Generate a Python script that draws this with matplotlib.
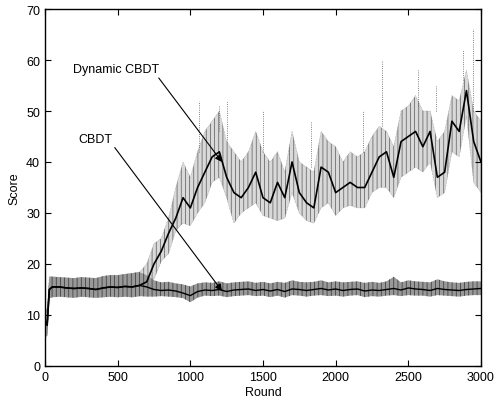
import numpy as np
import matplotlib
matplotlib.use("Agg")
import matplotlib.pyplot as plt

plt.rcParams["font.family"] = ["Liberation Sans", "DejaVu Sans"]
plt.rcParams["hatch.linewidth"] = 0.5

# -----------------------------
# DATA (50-round bins)
# -----------------------------
rounds = np.concatenate([[0, 15, 30], np.arange(50, 3001, 50)])

cbdt_core = [9, 8, 15,
             15.5, 15.5, 15.3, 15.2, 15.3, 15.2, 15.0, 15.3, 15.5, 15.4,
             15.6, 15.5, 15.8, 15.5, 15.0, 14.8, 14.9, 14.7, 14.3, 13.8,
             14.6, 14.9, 14.8, 15.0, 14.6, 14.9, 15.0, 15.1, 14.8, 15.0,
             14.7, 15.0, 14.6, 15.1, 15.0, 14.8, 15.0, 15.2, 14.9, 15.1,
             14.8, 15.0, 15.1, 14.7, 14.9, 14.8, 15.0, 15.2, 14.9, 15.3,
             15.1, 15.0, 14.8, 15.2, 15.0, 14.9, 14.8, 15.0, 15.1, 15.2]
cbdt_lo = [5.5, 6, 13.3,
           13.5, 13.6, 13.5, 13.4, 13.6, 13.5, 13.4, 13.5, 13.6, 13.5,
           13.6, 13.5, 13.7, 13.6, 13.6, 13.7, 13.6, 13.5, 13.3, 12.5,
           13.4, 13.8, 13.7, 13.8, 13.5, 13.7, 13.8, 13.9, 13.7, 13.8,
           13.5, 13.8, 13.4, 13.9, 13.8, 13.6, 13.8, 13.9, 13.7, 13.8,
           13.6, 13.8, 13.9, 13.5, 13.7, 13.6, 13.8, 13.9, 13.7, 13.9,
           13.8, 13.8, 13.6, 13.9, 13.8, 13.7, 13.6, 13.8, 13.9, 13.9]
cbdt_hi = [11.5, 11, 17.5,
           17.5, 17.4, 17.3, 17.2, 17.4, 17.3, 17.2, 17.6, 17.8, 17.8,
           18.0, 18.2, 18.4, 17.8, 16.8, 16.4, 16.5, 16.2, 16.0, 15.6,
           16.2, 16.4, 16.3, 16.6, 16.2, 16.4, 16.5, 16.6, 16.3, 16.5,
           16.2, 16.5, 16.3, 16.8, 16.5, 16.4, 16.5, 16.8, 16.4, 16.6,
           16.4, 16.5, 16.6, 16.3, 16.5, 16.3, 16.6, 17.5, 16.4, 16.8,
           16.6, 16.5, 16.4, 17.0, 16.6, 16.4, 16.3, 16.5, 16.6, 16.6]

# dynamic CBDT follows CBDT up to round 650, then from round 700 on:
dyn_core = cbdt_core[:16] + [
    16.5, 20, 22.5, 26, 29, 33, 31,
    35, 38, 41, 42, 37, 34, 33, 35, 38, 33,
    32, 36, 33, 40, 34, 32, 31, 39, 38, 34,
    35, 36, 35, 35, 38, 41, 42, 37, 44, 45,
    46, 43, 46, 37, 38, 48, 46, 54, 44, 40]
dyn_lo = cbdt_lo[:16] + [
    14.5, 17, 20.5, 22, 26.5, 28, 27.5,
    30, 32, 36, 37, 33, 28, 30, 31, 32, 29.5,
    29, 28.5, 29, 34, 30, 28.5, 28, 31, 32, 29.5,
    31, 31.5, 31, 31, 34, 35, 35, 33, 37, 38,
    39, 38, 40, 33, 34, 42, 41, 49, 36, 34]
dyn_hi = cbdt_hi[:16] + [
    20, 24, 25, 29, 35, 40, 37,
    42, 46, 48, 50, 44, 42, 40, 42, 46, 42,
    40, 42, 38, 46, 40, 39, 38, 46, 44, 43,
    40, 42, 41, 42, 45, 47, 46, 43, 50, 51,
    53, 50, 50, 44, 46, 53, 52, 58, 50, 48]

# sparse tall dotted streaks above the dynamic band
spike_rounds = [1060, 1200, 1250, 1500, 1830, 2190, 2320, 2567, 2690, 2875, 2945]
spike_base = [42, 46, 44, 42, 39, 42, 47, 51, 50, 56, 50]
spike_top = [52, 51, 52, 50, 48, 50, 60, 58, 55, 62, 66]

# -----------------------------
# PLOT
# -----------------------------
fig = plt.figure(figsize=(4.96, 4.02), dpi=100)
ax = fig.add_axes([0.0907, 0.0871, 0.879, 0.888])

# dynamic CBDT: streaky band + dense core
ax.fill_between(rounds, dyn_lo, dyn_hi, facecolor="0.85", edgecolor="0.35",
                hatch="||||", lw=0)
ax.plot(rounds, dyn_lo, color="0.5", lw=0.4, ls=":")
ax.plot(rounds, dyn_hi, color="0.5", lw=0.4, ls=":")
ax.plot(rounds, dyn_core, color="black", lw=1.2)
ax.vlines(spike_rounds, spike_base, spike_top, colors="0.35", lw=0.6, linestyles=":")

# CBDT: thin noisy band around 15
ax.fill_between(rounds, cbdt_lo, cbdt_hi, facecolor="0.6", edgecolor="0.2",
                hatch="||||", lw=0)
ax.plot(rounds, cbdt_core, color="black", lw=1.0)

ax.annotate("Dynamic CBDT", xy=(1218, 40), xytext=(193, 58.2),
            fontsize=9, va="center", ha="left",
            arrowprops=dict(arrowstyle="-|>", color="black", lw=0.8,
                            shrinkA=0, shrinkB=0, mutation_scale=10,
                            relpos=(0.95, 0.2)))
ax.annotate("CBDT", xy=(1218, 14.7), xytext=(227, 44.5),
            fontsize=9, va="center", ha="left",
            arrowprops=dict(arrowstyle="-|>", color="black", lw=0.8,
                            shrinkA=0, shrinkB=0, mutation_scale=10,
                            relpos=(1.0, 0.1)))

ax.set_xlim(0, 3000)
ax.set_ylim(0, 70)
ax.set_xticks(range(0, 3001, 500))
ax.set_yticks(range(0, 71, 10))
ax.tick_params(direction="in", top=True, right=True, labelsize=9, length=4)
ax.set_xlabel("Round", fontsize=9, labelpad=2)
ax.set_ylabel("Score", fontsize=9, labelpad=4)
for s in ax.spines.values():
    s.set_linewidth(1.0)

fig.savefig("out.png", dpi=100)
